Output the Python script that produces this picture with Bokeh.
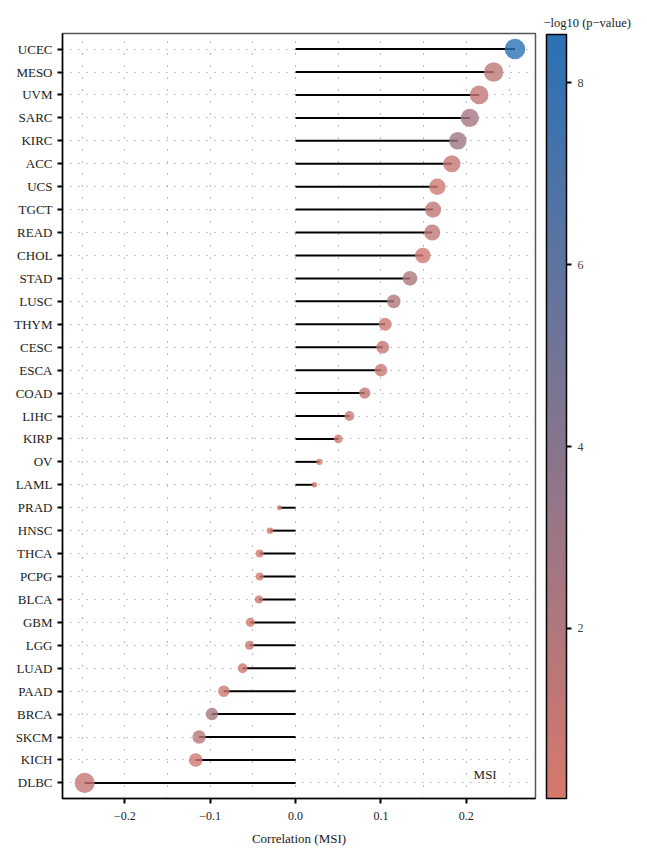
import numpy as np
from bokeh.plotting import figure
from bokeh.models import (ColumnDataSource, FactorRange, Range1d, LinearColorMapper,
                          ColorBar, FixedTicker, Label, Title)
from bokeh.embed import file_html
from bokeh.resources import INLINE

# Correlation of each cancer type with MSI, top to bottom
cancers = ["UCEC", "MESO", "UVM", "SARC", "KIRC", "ACC", "UCS", "TGCT", "READ", "CHOL",
           "STAD", "LUSC", "THYM", "CESC", "ESCA", "COAD", "LIHC", "KIRP", "OV", "LAML",
           "PRAD", "HNSC", "THCA", "PCPG", "BLCA", "GBM", "LGG", "LUAD", "PAAD", "BRCA",
           "SKCM", "KICH", "DLBC"]
correlation = [0.257, 0.232, 0.215, 0.204, 0.190, 0.183, 0.166, 0.161, 0.160, 0.149,
               0.134, 0.115, 0.105, 0.102, 0.100, 0.081, 0.063, 0.050, 0.028, 0.022,
               -0.019, -0.030, -0.042, -0.042, -0.043, -0.053, -0.054, -0.062, -0.084, -0.098,
               -0.113, -0.117, -0.247]
neg_log10_p = [8.53, 1.5, 1.1, 2.5, 3.0, 1.0, 0.6, 1.2, 1.3, 0.45,
               1.9, 2.0, 0.8, 1.1, 0.8, 1.0, 0.6, 0.45, 0.25, 0.13,
               0.17, 0.3, 0.5, 0.25, 0.45, 0.3, 0.6, 0.75, 0.6, 2.4,
               1.7, 0.45, 1.0]
colorbar_ticks = [2, 4, 6, 8]
x_ticks = [-0.2, -0.1, 0.0, 0.1, 0.2]

SERIF = "Liberation Serif"

# point diameter: area grows linearly with |r|
abs_r = np.abs(np.array(correlation))
d_min, d_max = 5.0, 20.5
area = d_min**2 + (d_max**2 - d_min**2) * (abs_r - abs_r.min()) / (abs_r.max() - abs_r.min())
sizes = np.sqrt(area)

source = ColumnDataSource(dict(cancer=cancers, cor=correlation, nlp=neg_log10_p,
                               size=sizes, zero=[0.0] * len(cancers)))

# red -> blue gradient for -log10(p)
lo = np.array([0xD6, 0x78, 0x6C])
hi = np.array([0x2B, 0x72, 0xB5])
palette = ["#%02x%02x%02x" % tuple(np.round(lo + (hi - lo) * t).astype(int))
           for t in np.linspace(0, 1, 256)]
mapper = LinearColorMapper(palette=palette, low=min(neg_log10_p), high=max(neg_log10_p))

# colour-bar heading, drawn as the figure title above the bar
heading = Title(text="\u2212log10 (p\u2212value)", align="left", offset=481,
                text_font=SERIF, text_font_size="12.5px", text_font_style="normal",
                text_color="#222222", standoff=8)

p = figure(width=647, height=848, output_backend="svg", toolbar_location=None,
           x_range=Range1d(-0.273, 0.281),
           y_range=FactorRange(factors=cancers[::-1], range_padding=0.18,
                               range_padding_units="absolute"),
           title=heading,
           min_border_left=62, min_border_right=112, min_border_top=33, min_border_bottom=50)

p.segment(x0="zero", y0="cancer", x1="cor", y1="cancer", source=source,
          line_color="black", line_width=2)
p.scatter(x="cor", y="cancer", size="size", source=source,
          fill_color={"field": "nlp", "transform": mapper}, fill_alpha=0.8,
          line_color=None)

# grid: dotted lines
p.xgrid.ticker = FixedTicker(ticks=[-0.25, -0.2, -0.15, -0.1, -0.05, 0.0, 0.05, 0.1, 0.15, 0.2, 0.25])
p.xgrid.grid_line_color = "#777777"
p.xgrid.grid_line_dash = "1 11"
p.xgrid.grid_line_width = 1
p.ygrid.grid_line_color = "#8a8a8a"
p.ygrid.grid_line_dash = "1 7"
p.ygrid.grid_line_width = 1

p.outline_line_color = "#555555"
p.outline_line_width = 1.5

p.xaxis.ticker = FixedTicker(ticks=x_ticks)
p.xaxis.major_label_overrides = {-0.2: "\u22120.2", -0.1: "\u22120.1", 0.0: "0.0", 0.1: "0.1", 0.2: "0.2"}
p.xaxis.axis_label = "Correlation (MSI)"
for ax in (p.xaxis, p.yaxis):
    ax.axis_line_color = "black"
    ax.axis_line_width = 1.5
    ax.major_tick_line_color = "black"
    ax.major_tick_line_width = 2
    ax.major_tick_in = 0
    ax.major_tick_out = 5
    ax.minor_tick_line_color = None
    ax.major_label_text_font = SERIF
    ax.major_label_text_color = "#1a1a1a"
    ax.axis_label_text_font = SERIF
    ax.axis_label_text_font_style = "normal"
    ax.axis_label_text_color = "#1a1a1a"
p.xaxis.major_label_text_font_size = "12px"
p.yaxis.major_label_text_font_size = "13px"
p.xaxis.axis_label_text_font_size = "13px"
p.xaxis.major_label_standoff = 8
p.xaxis.axis_label_standoff = 8
p.yaxis.major_label_standoff = 5

p.add_layout(Label(x=0.222, y=0.85, text="MSI", text_font=SERIF, text_font_size="13px",
                   text_color="#222222", text_align="center", text_baseline="middle"))

color_bar = ColorBar(color_mapper=mapper, width=20, height=764, padding=0, margin=0,
                     location=(11, 0), ticker=FixedTicker(ticks=colorbar_ticks),
                     major_tick_in=0, major_tick_out=5, major_tick_line_color="black",
                     major_tick_line_width=2, minor_tick_line_color=None,
                     bar_line_color="black", bar_line_width=1.5,
                     major_label_text_font=SERIF, major_label_text_font_size="12px",
                     label_standoff=6, background_fill_alpha=0)
p.add_layout(color_bar, "right")

open("out.html", "w").write(file_html(p, INLINE))
